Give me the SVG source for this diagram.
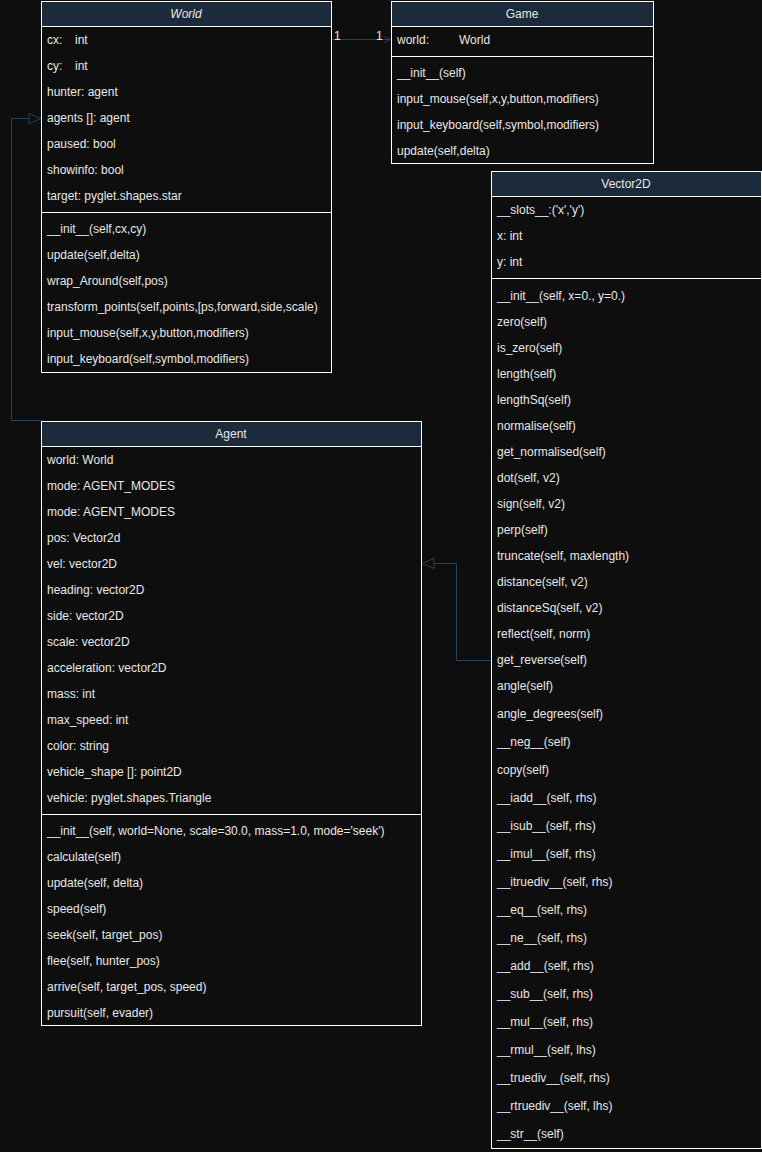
<svg xmlns="http://www.w3.org/2000/svg" width="762" height="1152" viewBox="0 0 762 1152">
<defs>
<style>
.bg{fill:#0e0e0e}
.box{fill:#0e0e0e;stroke:#ffffff;stroke-width:1}
.hdr{fill:#1b2b3b;stroke:#ffffff;stroke-width:1}
.sep{stroke:#ffffff;stroke-width:1}
text{font-family:"Liberation Sans",Arial,sans-serif;font-size:12px;fill:#e8e8e8}
.t{text-anchor:middle}
.conn{fill:none;stroke:#24415e;stroke-width:1}
</style>
<marker id="open" viewBox="0 0 10 10" refX="10" refY="5" markerWidth="8" markerHeight="8" orient="auto" markerUnits="userSpaceOnUse">
<path d="M1,1 L10,5 L1,9" fill="none" stroke="#24415e" stroke-width="1.2"/>
</marker>
<marker id="tri" viewBox="0 0 14 12" refX="13" refY="6" markerWidth="14" markerHeight="12" orient="auto" markerUnits="userSpaceOnUse">
<path d="M1,1 L13,6 L1,11 Z" fill="#0e0e0e" stroke="#24415e" stroke-width="1"/>
</marker>
</defs>
<rect class="bg" x="0" y="0" width="762" height="1152"/>

<g id="connectors">
<path class="conn" d="M331.5,39.5 L390.5,39.5" marker-end="url(#open)"/>
<text x="334" y="40">1</text>
<text x="376" y="40">1</text>
<path class="conn" d="M41,420.5 L11.5,420.5 L11.5,118.5 L41,118.5" marker-end="url(#tri)"/>
<path class="conn" d="M491,660.5 L456.5,660.5 L456.5,563.5 L422,563.5" marker-end="url(#tri)"/>
</g>

<g id="World">
<rect class="box" x="41.5" y="1.5" width="290" height="371"/>
<rect class="hdr" x="41.5" y="1.5" width="290" height="25"/>
<text class="t" x="186" y="18" font-style="italic">World</text>
<text x="47" y="44">cx:</text><text x="75" y="44">int</text>
<text x="47" y="70">cy:</text><text x="75" y="70">int</text>
<text x="47" y="96">hunter: agent</text>
<text x="47" y="122">agents []: agent</text>
<text x="47" y="148">paused: bool</text>
<text x="47" y="174">showinfo: bool</text>
<text x="47" y="200">target: pyglet.shapes.star</text>
<line class="sep" x1="41.5" y1="212.5" x2="331.5" y2="212.5"/>
<text x="47" y="233">__init__(self,cx,cy)</text>
<text x="47" y="259">update(self,delta)</text>
<text x="47" y="285">wrap_Around(self,pos)</text>
<text x="47" y="311">transform_points(self,points,[ps,forward,side,scale)</text>
<text x="47" y="337">input_mouse(self,x,y,button,modifiers)</text>
<text x="47" y="363">input_keyboard(self,symbol,modifiers)</text>
</g>

<g id="Game">
<rect class="box" x="391.5" y="1.5" width="262" height="162"/>
<rect class="hdr" x="391.5" y="1.5" width="262" height="25"/>
<text class="t" x="522" y="18">Game</text>
<text x="397" y="44">world:</text><text x="459" y="44">World</text>
<line class="sep" x1="391.5" y1="56.5" x2="653.5" y2="56.5"/>
<text x="397" y="77">__init__(self)</text>
<text x="397" y="103">input_mouse(self,x,y,button,modifiers)</text>
<text x="397" y="129">input_keyboard(self,symbol,modifiers)</text>
<text x="397" y="155">update(self,delta)</text>
</g>

<g id="Vector2D">
<rect class="box" x="491.5" y="171.5" width="270" height="977"/>
<rect class="hdr" x="491.5" y="171.5" width="270" height="25"/>
<text class="t" x="626" y="188">Vector2D</text>
<text x="497" y="214">__slots__:('x','y')</text>
<text x="497" y="240">x: int</text>
<text x="497" y="266">y: int</text>
<line class="sep" x1="491.5" y1="278.5" x2="761.5" y2="278.5"/>
<text x="497" y="300">__init__(self, x=0., y=0.)</text>
<text x="497" y="326">zero(self)</text>
<text x="497" y="352">is_zero(self)</text>
<text x="497" y="378">length(self)</text>
<text x="497" y="404">lengthSq(self)</text>
<text x="497" y="430">normalise(self)</text>
<text x="497" y="456">get_normalised(self)</text>
<text x="497" y="482">dot(self, v2)</text>
<text x="497" y="508">sign(self, v2)</text>
<text x="497" y="534">perp(self)</text>
<text x="497" y="560">truncate(self, maxlength)</text>
<text x="497" y="586">distance(self, v2)</text>
<text x="497" y="612">distanceSq(self, v2)</text>
<text x="497" y="638">reflect(self, norm)</text>
<text x="497" y="664">get_reverse(self)</text>
<text x="497" y="690">angle(self)</text>
<text x="497" y="718">angle_degrees(self)</text>
<text x="497" y="746">__neg__(self)</text>
<text x="497" y="774">copy(self)</text>
<text x="497" y="802">__iadd__(self, rhs)</text>
<text x="497" y="830">__isub__(self, rhs)</text>
<text x="497" y="858">__imul__(self, rhs)</text>
<text x="497" y="886">__itruediv__(self, rhs)</text>
<text x="497" y="914">__eq__(self, rhs)</text>
<text x="497" y="942">__ne__(self, rhs)</text>
<text x="497" y="970">__add__(self, rhs)</text>
<text x="497" y="998">__sub__(self, rhs)</text>
<text x="497" y="1026">__mul__(self, rhs)</text>
<text x="497" y="1054">__rmul__(self, lhs)</text>
<text x="497" y="1082">__truediv__(self, rhs)</text>
<text x="497" y="1110">__rtruediv__(self, lhs)</text>
<text x="497" y="1138">__str__(self)</text>
</g>

<g id="Agent">
<rect class="box" x="41.5" y="421.5" width="380" height="604"/>
<rect class="hdr" x="41.5" y="421.5" width="380" height="25"/>
<text class="t" x="231" y="438">Agent</text>
<text x="47" y="464">world: World</text>
<text x="47" y="490">mode: AGENT_MODES</text>
<text x="47" y="516">mode: AGENT_MODES</text>
<text x="47" y="542">pos: Vector2d</text>
<text x="47" y="568">vel: vector2D</text>
<text x="47" y="594">heading: vector2D</text>
<text x="47" y="620">side: vector2D</text>
<text x="47" y="646">scale: vector2D</text>
<text x="47" y="672">acceleration: vector2D</text>
<text x="47" y="698">mass: int</text>
<text x="47" y="724">max_speed: int</text>
<text x="47" y="750">color: string</text>
<text x="47" y="776">vehicle_shape []: point2D</text>
<text x="47" y="802">vehicle: pyglet.shapes.Triangle</text>
<line class="sep" x1="41.5" y1="814.5" x2="421.5" y2="814.5"/>
<text x="47" y="835">__init__(self, world=None, scale=30.0, mass=1.0, mode='seek')</text>
<text x="47" y="861">calculate(self)</text>
<text x="47" y="887">update(self, delta)</text>
<text x="47" y="913">speed(self)</text>
<text x="47" y="939">seek(self, target_pos)</text>
<text x="47" y="965">flee(self, hunter_pos)</text>
<text x="47" y="991">arrive(self, target_pos, speed)</text>
<text x="47" y="1017">pursuit(self, evader)</text>
</g>
</svg>
